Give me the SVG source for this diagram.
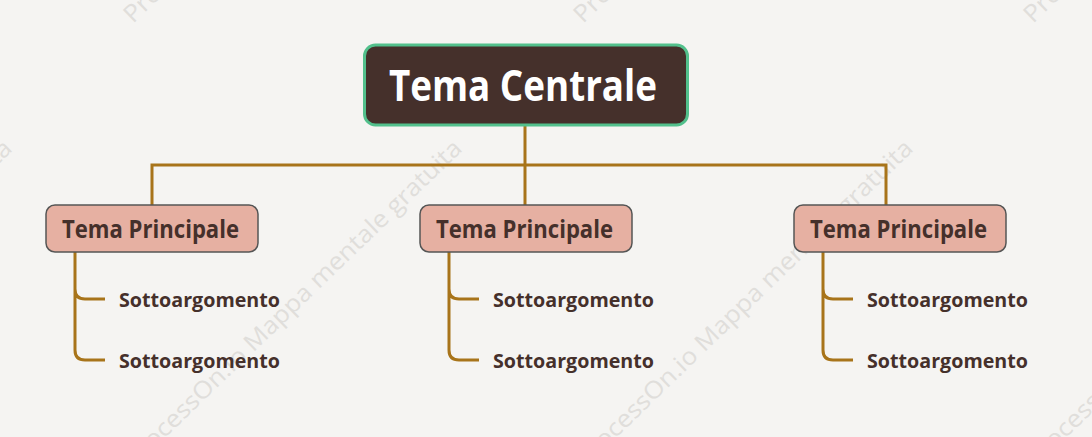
<svg xmlns="http://www.w3.org/2000/svg" width="1092" height="437" viewBox="0 0 1092 437">
<defs>
<style>
.wm{font-family:"Open Sans","Noto Sans",sans-serif;font-size:24px;fill:#e0dedb}
.conn{fill:none;stroke:#a8741a;stroke-width:3}
.main{fill:#e6b0a2;stroke:#555;stroke-width:1.5}
.mt{font-family:"Open Sans","Noto Sans",sans-serif;font-weight:bold;font-size:25px;fill:#45302b}
.st{font-family:"Open Sans","Noto Sans",sans-serif;font-weight:bold;font-size:20px;fill:#45302b}
</style>
</defs>
<rect width="1092" height="437" fill="#f5f4f2"/>
<g id="watermarks">
<text class="wm" x="133" y="24" transform="rotate(-44 133 24)" textLength="458" lengthAdjust="spacingAndGlyphs">ProcessOn.io Mappa mentale gratuita</text>
<text class="wm" x="583" y="24" transform="rotate(-44 583 24)" textLength="458" lengthAdjust="spacingAndGlyphs">ProcessOn.io Mappa mentale gratuita</text>
<text class="wm" x="1033" y="24" transform="rotate(-44 1033 24)" textLength="458" lengthAdjust="spacingAndGlyphs">ProcessOn.io Mappa mentale gratuita</text>
<text class="wm" x="-316" y="468" transform="rotate(-44 -316 468)" textLength="458" lengthAdjust="spacingAndGlyphs">ProcessOn.io Mappa mentale gratuita</text>
<text class="wm" x="134" y="468" transform="rotate(-44 134 468)" textLength="458" lengthAdjust="spacingAndGlyphs">ProcessOn.io Mappa mentale gratuita</text>
<text class="wm" x="585" y="468" transform="rotate(-44 585 468)" textLength="458" lengthAdjust="spacingAndGlyphs">ProcessOn.io Mappa mentale gratuita</text>
<text class="wm" x="1035" y="468" transform="rotate(-44 1035 468)" textLength="458" lengthAdjust="spacingAndGlyphs">ProcessOn.io Mappa mentale gratuita</text>
</g>
<g id="connectors">
<path class="conn" d="M525 125V165M152 205V165H886V205M525 165V205"/>
<path class="conn" d="M75 252V289Q75 299 85 299H105M75 289V350Q75 360 85 360H105"/>
<path class="conn" d="M449 252V289Q449 299 459 299H479M449 289V350Q449 360 459 360H479"/>
<path class="conn" d="M823 252V289Q823 299 833 299H853M823 289V350Q823 360 833 360H853"/>
</g>
<g id="central">
<rect x="364.5" y="45" width="323" height="80" rx="11" fill="#45302b" stroke="#52c08c" stroke-width="3"/>
<text x="389" y="101" font-family="Open Sans, Noto Sans, sans-serif" font-weight="bold" font-size="43" fill="#ffffff" textLength="268" lengthAdjust="spacingAndGlyphs">Tema Centrale</text>
</g>
<g id="main1">
<rect class="main" x="46" y="205" width="212" height="47" rx="9"/>
<text class="mt" x="62" y="238" textLength="177" lengthAdjust="spacingAndGlyphs">Tema Principale</text>
</g>
<g id="main2">
<rect class="main" x="420" y="205" width="212" height="47" rx="9"/>
<text class="mt" x="436" y="238" textLength="177" lengthAdjust="spacingAndGlyphs">Tema Principale</text>
</g>
<g id="main3">
<rect class="main" x="794" y="205" width="212" height="47" rx="9"/>
<text class="mt" x="810" y="238" textLength="177" lengthAdjust="spacingAndGlyphs">Tema Principale</text>
</g>
<g id="sub1a"><text class="st" x="119" y="307" textLength="161" lengthAdjust="spacingAndGlyphs">Sottoargomento</text></g>
<g id="sub1b"><text class="st" x="119" y="368" textLength="161" lengthAdjust="spacingAndGlyphs">Sottoargomento</text></g>
<g id="sub2a"><text class="st" x="493" y="307" textLength="161" lengthAdjust="spacingAndGlyphs">Sottoargomento</text></g>
<g id="sub2b"><text class="st" x="493" y="368" textLength="161" lengthAdjust="spacingAndGlyphs">Sottoargomento</text></g>
<g id="sub3a"><text class="st" x="867" y="307" textLength="161" lengthAdjust="spacingAndGlyphs">Sottoargomento</text></g>
<g id="sub3b"><text class="st" x="867" y="368" textLength="161" lengthAdjust="spacingAndGlyphs">Sottoargomento</text></g>
</svg>
